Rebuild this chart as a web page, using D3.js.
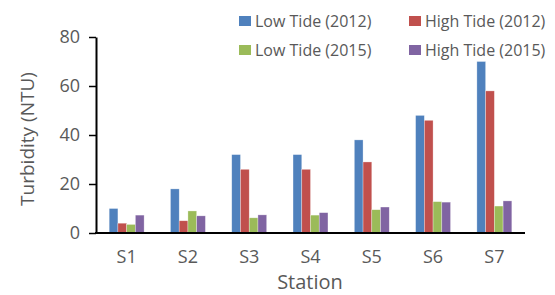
<!DOCTYPE html>
<meta charset="utf-8">
<style>
body { margin: 0; background: #fff; }
text { font-family: "Open Sans", sans-serif; fill: #595959; }
</style>
<body>
<script src="https://d3js.org/d3.v7.min.js"></script>
<script>

var stations = ["S1", "S2", "S3", "S4", "S5", "S6", "S7"];
var seriesNames = ["Low Tide (2012)", "High Tide (2012)", "Low Tide (2015)", "High Tide (2015)"];
var seriesColors = ["#4f81bd", "#c0504d", "#9bbb59", "#8064a2"];
var lowTide2012 = [10, 18, 32, 32, 38, 48, 70];
var highTide2012 = [4, 5, 26, 26, 29, 46, 58];
var lowTide2015 = [3.5, 9, 6.2, 7.3, 9.5, 12.8, 11];
var highTide2015 = [7.3, 7, 7.4, 8.3, 10.6, 12.6, 13.1];
var yTicks = [0, 20, 40, 60, 80];

var series = [lowTide2012, highTide2012, lowTide2015, highTide2015];

var width = 555,
    height = 295,
    plotLeft = 96,
    plotRight = 525,
    plotTop = 37,
    plotBottom = 233;

var svg = d3.select("body").append("svg")
    .attr("width", width)
    .attr("height", height);

var x0 = d3.scaleBand()
    .domain(stations)
    .range([plotLeft, plotRight])
    .paddingInner(0.43)
    .paddingOuter(0.215);

var x1 = d3.scaleBand()
    .domain(d3.range(series.length))
    .range([0, x0.bandwidth()]);

var y = d3.scaleLinear()
    .domain([0, 80])
    .range([plotBottom, plotTop]);

// bars
svg.append("g").selectAll("g")
  .data(stations)
  .join("g")
    .attr("transform", function(d) { return "translate(" + x0(d) + ",0)"; })
  .selectAll("rect")
  .data(function(d, i) { return series.map(function(s, k) { return {k: k, v: s[i]}; }); })
  .join("rect")
    .attr("x", function(d) { return x1(d.k); })
    .attr("y", function(d) { return y(d.v); })
    .attr("width", x1.bandwidth())
    .attr("height", function(d) { return plotBottom - y(d.v); })
    .attr("fill", function(d) { return seriesColors[d.k]; })
    .attr("stroke", "#fff")
    .attr("stroke-opacity", 0.5)
    .attr("stroke-width", 0.6);

// y axis
var yAxis = svg.append("g")
    .attr("transform", "translate(" + plotLeft + ",0)")
    .call(d3.axisLeft(y).tickValues(yTicks).tickSize(7).tickPadding(9).tickSizeOuter(0));
yAxis.select(".domain").attr("stroke", "#000").attr("stroke-width", 2);
yAxis.selectAll(".tick line").attr("stroke", "#000").attr("stroke-width", 1.5);
yAxis.selectAll("text").style("font-size", "18px").attr("fill", "#595959");

// x axis
var xAxis = svg.append("g")
    .attr("transform", "translate(0," + plotBottom + ")")
    .call(d3.axisBottom(x0).tickSize(0).tickPadding(17).tickSizeOuter(0));
xAxis.select(".domain").attr("stroke", "#000").attr("stroke-width", 2)
    .attr("d", "M" + (plotLeft - 1) + ",0H" + plotRight);
xAxis.selectAll("text").style("font-size", "18px").attr("fill", "#595959");

// axis titles
svg.append("text")
    .attr("transform", "translate(34," + ((plotTop + plotBottom) / 2 + 4) + ") rotate(-90)")
    .attr("text-anchor", "middle")
    .style("font-size", "19px")
    .text("Turbidity (NTU)");

svg.append("text")
    .attr("x", 310)
    .attr("y", 289)
    .attr("text-anchor", "middle")
    .style("font-size", "20px")
    .text("Station");

// legend
var legend = svg.append("g").selectAll("g")
  .data(seriesNames)
  .join("g")
    .attr("transform", function(d, i) {
      return "translate(" + (i % 2 ? 409 : 239) + "," + (i < 2 ? 21 : 50) + ")";
    });

legend.append("rect")
    .attr("x", 0)
    .attr("y", -5)
    .attr("width", 12)
    .attr("height", 10)
    .attr("fill", function(d, i) { return seriesColors[i]; });

legend.append("text")
    .attr("x", 16)
    .attr("y", 6)
    .style("font-size", "16px")
    .text(function(d) { return d; });

</script>
